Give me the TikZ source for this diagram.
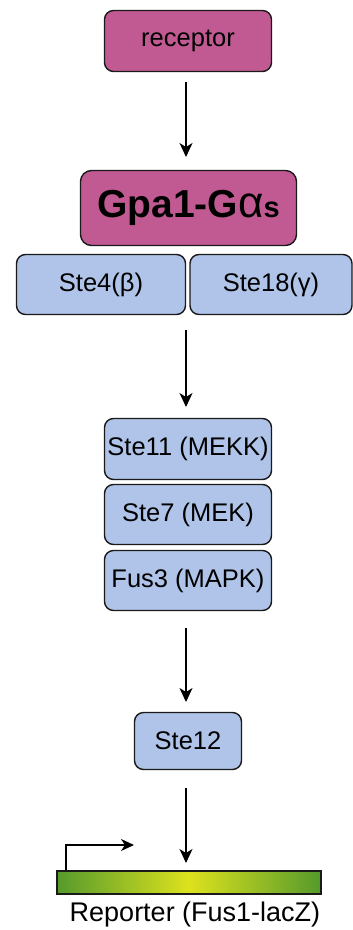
\documentclass[tikz,border=0pt]{standalone}
\usepackage{fontspec}
\setmainfont{Liberation Sans}
\usetikzlibrary{arrows.meta}
\definecolor{magen}{HTML}{C15A92}
\definecolor{lblue}{HTML}{AFC4E8}
\definecolor{edge}{HTML}{1A1A1A}
\definecolor{gdark}{HTML}{559A2C}
\definecolor{gyel}{HTML}{DDE21E}
\tikzset{
  box/.style={draw=edge, line width=1.4pt, rounded corners=9pt, inner sep=0pt, font=\fontsize{25.5}{28}\selectfont},
  mbox/.style={box, fill=magen},
  bbox/.style={box, fill=lblue},
  flow/.style={draw=black, line width=1.2pt, -{Stealth[length=14pt,width=13pt,inset=4pt]}},
}
\begin{document}
\begin{tikzpicture}[x=1pt,y=-1pt]
\useasboundingbox (0,0) rectangle (353,930);
\node[mbox, minimum width=167pt, minimum height=61pt] (rec) at (188,41) {receptor};
\node[mbox, minimum width=216pt, minimum height=75pt, rounded corners=11pt] (gpa) at (188.5,208) {\fontsize{39}{44}\selectfont\bfseries Gpa1-G{\mdseries\fontsize{44}{44}\selectfont α}{\fontsize{29}{30}\selectfont s}};
\node[bbox, minimum width=169pt, minimum height=60pt] (ste4) at (101,284.5) {Ste4(β)};
\node[bbox, minimum width=162pt, minimum height=60pt] (ste18) at (271,284.5) {Ste18(γ)};
\node[bbox, minimum width=167pt, minimum height=61pt] (ste11) at (188,449) {Ste11 (MEKK)};
\node[bbox, minimum width=167pt, minimum height=60pt] (ste7) at (188,514.5) {Ste7 (MEK)};
\node[bbox, minimum width=167pt, minimum height=60pt] (fus3) at (188,580.5) {Fus3 (MAPK)};
\node[bbox, minimum width=107pt, minimum height=57pt] (ste12) at (188,741) {Ste12};
\node[draw=edge, line width=1.2pt, left color=gdark, right color=gdark, middle color=gyel, minimum width=264pt, minimum height=23pt, inner sep=0pt] (rep) at (189,882.5) {};
\node[font=\fontsize{27}{30}\selectfont, anchor=north, inner sep=0pt] (replab) at (195,902) {Reporter (Fus1-lacZ)};
\coordinate (a1s) at (186,82);
\coordinate (a1e) at (186,157);
\coordinate (a2s) at (186,330);
\coordinate (a2e) at (186,407);
\coordinate (a3s) at (186,628);
\coordinate (a3e) at (186,702);
\coordinate (a4s) at (186,788);
\coordinate (a4e) at (186,863);
\draw[flow] (a1s) -- (a1e);
\draw[flow] (a2s) -- (a2e);
\draw[flow] (a3s) -- (a3e);
\draw[flow] (a4s) -- (a4e);
\coordinate (p0) at (66,870);
\coordinate (p1) at (66,845);
\coordinate (p2) at (134,845);
\draw[flow, -{Stealth[length=13pt,width=12pt,inset=4pt]}] (p0) -- (p1) -- (p2);
\end{tikzpicture}
\end{document}
